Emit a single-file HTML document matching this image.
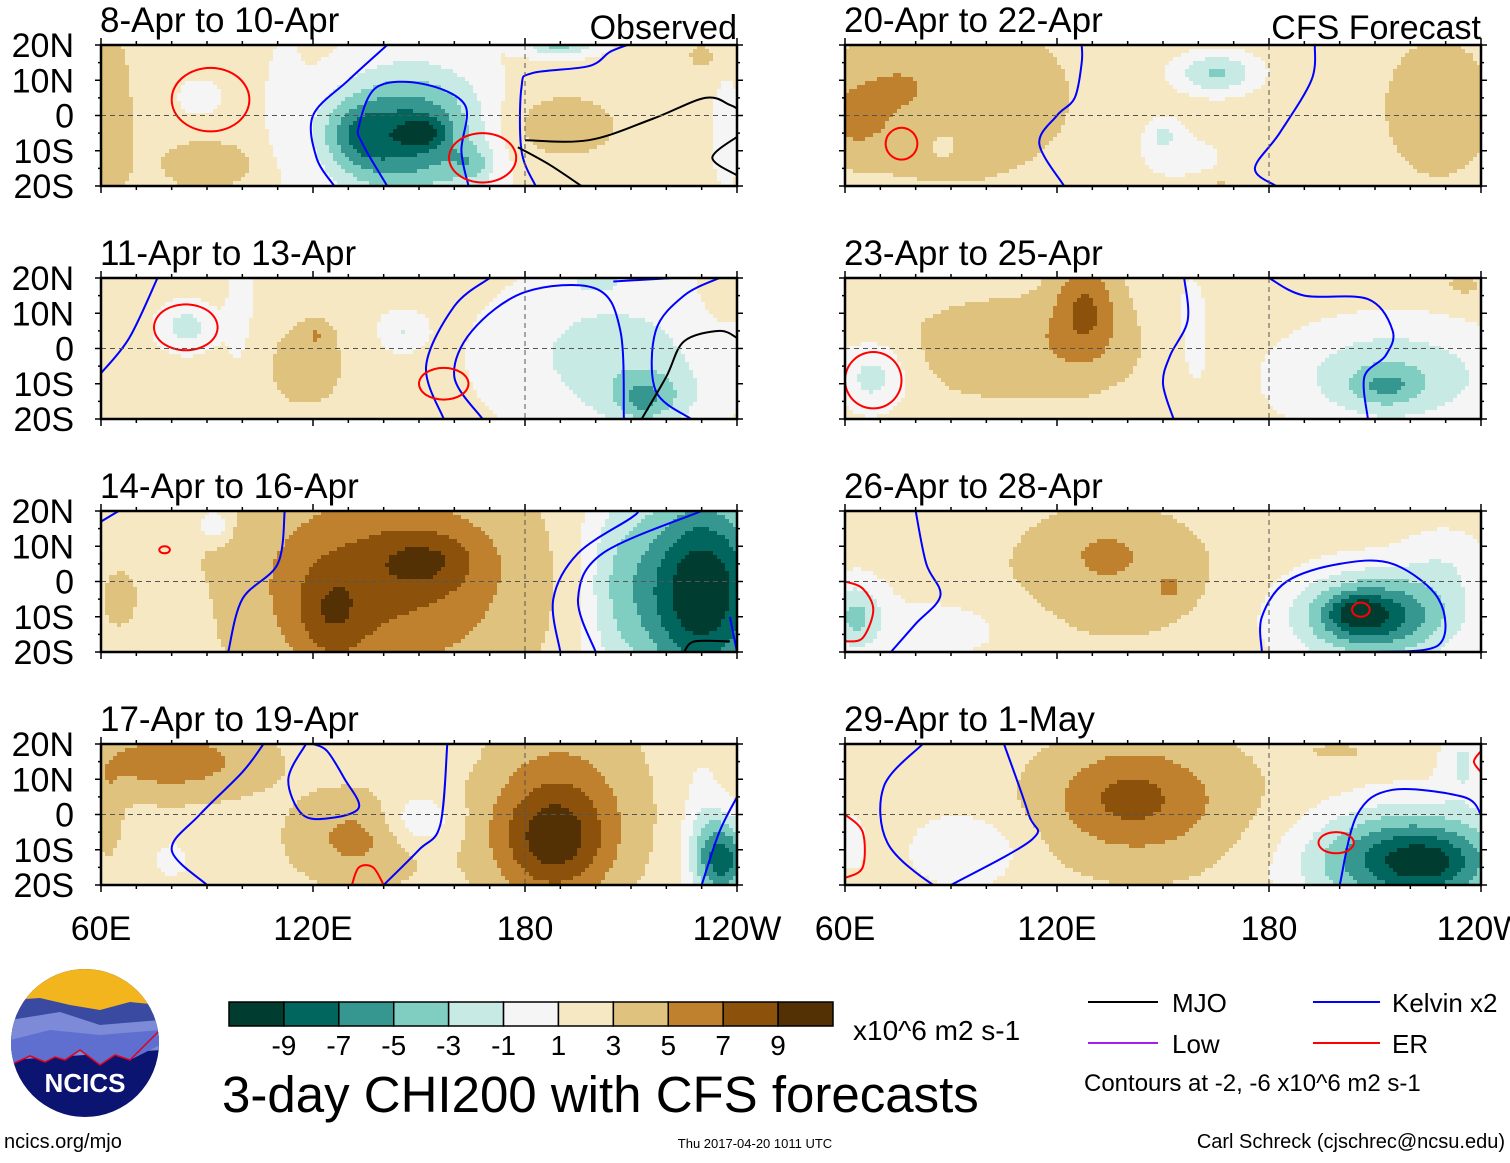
<!DOCTYPE html>
<html><head><meta charset="utf-8"><style>
html,body{margin:0;padding:0;background:#fff;}
svg text{font-family:"Liberation Sans",Arial,sans-serif;}
</style></head><body>
<svg id="s" width="1510" height="1158" viewBox="0 0 1510 1158" xmlns="http://www.w3.org/2000/svg">
<g id="panels"></g>
<g id="bottom">
  <g>
    <clipPath id="lc"><circle cx="85" cy="1043" r="74"/></clipPath>
    <g clip-path="url(#lc)">
      <rect x="10" y="968" width="150" height="150" fill="#0b1470"/>
      <rect x="10" y="968" width="150" height="50" fill="#f2b51e"/>
      <path d="M10 1000 L40 998 L70 1005 L100 1010 L130 1002 L160 1005 L160 1050 L10 1055Z" fill="#3a4aa0"/>
      <path d="M10 1020 L60 1012 L100 1025 L160 1020 L160 1050 L10 1060Z" fill="#7d8ad8"/>
      <path d="M10 1040 L50 1030 L100 1035 L160 1030 L160 1045 L130 1060 L115 1055 L100 1065 L80 1050 L65 1060 L55 1057 L45 1062 L30 1056 L10 1065Z" fill="#5f6fd0"/>
      <path d="M10 1065 L30 1056 L45 1062 L55 1057 L65 1060 L80 1050 L100 1065 L115 1055 L130 1060 L160 1030" fill="none" stroke="#e0001a" stroke-width="1.5"/>
    </g>
    <text x="85" y="1092" font-size="26" font-weight="bold" fill="#fff" text-anchor="middle">NCICS</text>
  </g>
  <text x="4" y="1148" font-size="20">ncics.org/mjo</text>
  <g id="cbar"></g>
  <text x="853" y="1040" font-size="28">x10^6 m2 s-1</text>
  <text x="222" y="1112" font-size="51">3-day CHI200 with CFS forecasts</text>
  <text x="755" y="1148" font-size="13" text-anchor="middle">Thu 2017-04-20 1011 UTC</text>
  <text x="1505" y="1148" font-size="20" text-anchor="end">Carl Schreck (cjschrec@ncsu.edu)</text>
  <g>
    <line x1="1088" y1="1002" x2="1158" y2="1002" stroke="#000" stroke-width="2"/>
    <text x="1172" y="1012" font-size="26">MJO</text>
    <line x1="1313" y1="1002" x2="1380" y2="1002" stroke="#0000ff" stroke-width="2"/>
    <text x="1392" y="1012" font-size="26">Kelvin x2</text>
    <line x1="1088" y1="1043" x2="1158" y2="1043" stroke="#a020f0" stroke-width="2"/>
    <text x="1172" y="1053" font-size="26">Low</text>
    <line x1="1313" y1="1043" x2="1380" y2="1043" stroke="#ff0000" stroke-width="2"/>
    <text x="1392" y="1053" font-size="26">ER</text>
    <text x="1084" y="1091" font-size="24">Contours at -2, -6 x10^6 m2 s-1</text>
  </g>
</g>
</svg>
<script>
const levels=[-9,-7,-5,-3,-1,1,3,5,7,9];
const colors=["#003c30","#01665e","#35978f","#80cdc1","#c7eae5","#f5f5f5","#f6e8c3","#dfc27d","#bf812d","#8c510a","#543005"];
const titles=["8-Apr to 10-Apr","11-Apr to 13-Apr","14-Apr to 16-Apr","17-Apr to 19-Apr","20-Apr to 22-Apr","23-Apr to 25-Apr","26-Apr to 28-Apr","29-Apr to 1-May"];
const latTicks=[20,10,0,-10,-20];
const latLabels=["20N","10N","0","10S","20S"];
const lonTicks=[60,120,180,240];
const lonLabels=["60E","120E","180","120W"];
const baseVals=[1.5,1.5,2,2.2,2.2,2,1.8,1.8];
// anomaly blobs: [lon, lat, rxLon, ryLat, amplitude]
const blobs=[
 [[62,0,8,30,3],[90,-14,15,8,3],[190,-3,18,10,3],[230,17,6,5,2],[148,-5,20,18,-9],[151,-5,6,4,-4],[165,-14,6,5,-3],[135,-8,10,12,-2],[130,-5,10,10,-3],[190,20,10,3,-5],[88,5,6,5,-1.5],[112,0,5,20,-1.5],[237,-5,4,15,-1.5]],
 [[118,-5,14,15,2.5],[121,4,4,4,2],[70,-12,10,6,1.5],[84,6,7,6,-3.5],[100,5,6,25,-1],[205,-2,30,20,-3.5],[215,-14,12,8,-4],[213,-15,5,5,-1.5],[200,19,8,3,-2.5],[236,15,5,6,2],[145,5,6,5,-2.5]],
 [[140,0,40,30,5.5],[125,-10,10,14,3],[152,6,14,8,3],[65,-5,6,10,1.5],[85,-10,5,8,-1.5],[92,16,4,4,-4],[230,-3,20,30,-13],[205,0,10,30,-3]],
 [[80,15,25,10,4],[62,0,4,12,2],[188,-8,16,16,6],[190,5,22,25,3],[135,-8,20,12,2],[130,-5,15,12,1.5],[150,-2,10,8,-3.5],[80,-13,6,6,-2],[160,18,5,4,-1.5],[236,-13,8,12,-10],[230,0,6,20,-2]],
 [[90,5,35,25,2],[63,0,10,10,3],[75,8,8,6,1.5],[88,-8,4,4,-1.2],[155,-12,15,8,-2],[165,12,12,6,-5.5],[150,-5,5,5,-3],[228,2,14,18,2.5],[165,-20,8,3,1.5]],
 [[128,12,9,14,4.5],[110,0,35,15,2.5],[158,5,8,25,-1.5],[215,-8,30,15,-5],[213,-11,9,5,-3],[68,-8,10,10,-4],[235,18,5,3,2]],
 [[135,3,30,20,3],[134,8,6,4,2],[152,-2,3,3,2.5],[90,-13,25,10,-1.5],[63,-10,8,10,-5],[210,-10,22,12,-10],[205,-9,8,5,-4],[230,5,12,10,-2]],
 [[145,3,35,22,3.5],[140,5,18,12,2.5],[95,-10,15,10,-3],[62,-8,4,8,-2],[220,-13,28,14,-11],[225,-14,10,6,-2],[235,15,6,10,-3],[200,18,10,3,1.5]]
];
// contour lines: [color, points] ; ellipses: [color, 'E', lon, lat, rx, ry]
const contours=[
 [["#00f",[[141,20],[130,10],[120,0],[121,-12],[126,-20]]],["#00f",[[141,-20],[134,-8],[133,-3],[138,8],[151,9],[163,3],[162,-10],[164,-20]]],["#00f",[[183,-20],[179,-10],[179,8],[182,12],[198,14],[204,18],[209,20]]],["#f00","E",91,4.5,11,9],["#f00","E",168,-12,9.5,7],["#000",[[178,-9],[187,-14],[196,-20]]],["#000",[[180,-7],[198,-7],[216,-1],[231,5],[238,3],[240,2]]],["#000",[[240,-6],[233,-12],[240,-17]]]],
 [["#00f",[[60,-7],[68,3],[76,20]]],["#00f",[[157,-20],[152,-5],[160,12],[170,20]]],["#00f",[[168,-20],[160,-8],[165,5],[180,16],[200,17],[207,5],[208,-20]]],["#00f",[[227,-20],[217,-12],[217,5],[225,15],[235,20]]],["#00f",[[205,19],[222,20]]],["#000",[[213,-20],[220,-8],[225,2],[235,5],[240,3]]],["#f00","E",84,6,9,6.5],["#f00","E",157,-10,7,4.5]],
 [["#00f",[[60,17],[65,20]]],["#00f",[[96,-20],[100,-5],[110,5],[112,20]]],["#00f",[[190,-20],[188,-5],[195,8],[210,18],[212,20]]],["#00f",[[200,-20],[195,-5],[202,8],[230,20]]],["#00f",[[240,-20],[238,-10]]],["#000",[[225,-20],[228,-17],[238,-17]]],["#f00","E",78,9,1.5,1]],
 [["#00f",[[90,-20],[80,-10],[88,0],[100,12],[106,20]]],["#00f",[[118,20],[113,10],[117,0],[125,-1],[133,2],[129,10],[124,18],[120,20]]],["#00f",[[140,-20],[150,-10],[156,-3],[158,20]]],["#00f",[[230,-20],[235,-5],[240,5]]],["#f00",[[131,-20],[133,-15],[137,-15],[140,-20]]]],
 [["#00f",[[122,-20],[115,-8],[120,0],[125,5],[127,15],[127,20]]],["#00f",[[182,-20],[176,-15],[183,-5],[192,10],[193,20]]],["#f00","E",76,-8,4.5,4.5]],
 [["#00f",[[156,20],[157,8],[152,-2],[150,-10],[153,-20]]],["#00f",[[180,20],[190,15],[208,14],[215,5],[213,-2],[207,-8],[208,-20]]],["#f00","E",68,-9,8,8]],
 [["#00f",[[80,20],[83,5],[87,-4],[80,-12],[73,-20]]],["#00f",[[178,-20],[178,-10],[185,0],[200,5],[215,5],[228,-5],[228,-18],[210,-20]]],["#f00",[[60,0],[65,-2],[68,-8],[65,-16],[60,-17]]],["#f00","E",206,-8,2.5,2]],
 [["#00f",[[82,20],[71,8],[72,-8],[85,-20],[90,-20]]],["#00f",[[90,-20],[113,-7],[112,0],[105,20]]],["#00f",[[200,-20],[205,0],[215,7],[235,5],[240,0]]],["#f00",[[60,0],[65,-5],[65,-15],[60,-18]]],["#f00",[[240,18],[238,15],[240,12]]],["#f00","E",199,-8,5,3]]
];
const NS="http://www.w3.org/2000/svg";
function mk(t,a,p){const e=document.createElementNS(NS,t);for(const k in a)e.setAttribute(k,a[k]);if(p)p.appendChild(e);return e;}
function binFor(v){for(let i=0;i<levels.length;i++){if(v<levels[i])return i;}return 10;}
function smoothPath(pts,closed){
 const n=pts.length;if(n<2)return '';
 const P=i=>closed?pts[(i+n)%n]:pts[Math.max(0,Math.min(n-1,i))];
 let d='M'+pts[0][0].toFixed(1)+','+pts[0][1].toFixed(1);
 const m=closed?n:n-1;
 for(let i=0;i<m;i++){const p0=P(i-1),p1=P(i),p2=P(i+1),p3=P(i+2);
  const c1=[p1[0]+(p2[0]-p0[0])/6,p1[1]+(p2[1]-p0[1])/6],c2=[p2[0]-(p3[0]-p1[0])/6,p2[1]-(p3[1]-p1[1])/6];
  d+=' C'+c1[0].toFixed(1)+','+c1[1].toFixed(1)+' '+c2[0].toFixed(1)+','+c2[1].toFixed(1)+' '+p2[0].toFixed(1)+','+p2[1].toFixed(1);}
 return d+(closed?'Z':'');
}
const lefts=[101,845], tops=[45,278,511,744], PW=636, PH=141, CELL=4;
const root=document.getElementById('panels');
for(let p=0;p<8;p++){
 const col=p<4?0:1,row=p%4,X0=lefts[col],Y0=tops[row];
 const xs=lon=>X0+(lon-60)/180*PW, ys=lat=>Y0+(20-lat)/40*PH;
 const g=mk('g',{},root);
 
 
 const cp=mk('clipPath',{id:'c'+p},g);mk('rect',{x:X0,y:Y0,width:PW,height:PH},cp);
 const f=mk('g',{'clip-path':'url(#c'+p+')','shape-rendering':'crispEdges'},g);
 const field=mk('g',{},f);
 
 
 for(let py=0;py<PH;py+=CELL){
  const lat=20-(py+CELL/2)/PH*40;
  let runStart=0,runBin=-1;
  for(let px=0;px<=PW;px+=CELL){
   let b=-2;
   if(px<PW){
    const lon=60+(px+CELL/2)/PW*180;
    let v=baseVals[p];
    blobs[p].forEach(q=>{const dx=(lon-q[0])/q[2],dy=(lat-q[1])/q[3];v+=q[4]*Math.exp(-(dx*dx+dy*dy));});
    b=binFor(v);
   }
   if(b!==runBin){
    if(runBin>=0)mk('rect',{x:X0+runStart,y:Y0+py,width:px-runStart,height:CELL+0.5,fill:colors[runBin]},field);
    runBin=b;runStart=px;
   }
  }
 }
 contours[p].forEach(c=>{
  let d;
  if(c[1]==='E'){const pts=[];for(let k=0;k<16;k++){const a=k/16*2*Math.PI;pts.push([xs(c[2]+c[4]*Math.cos(a)),ys(c[3]+c[5]*Math.sin(a))]);}d=smoothPath(pts,true);}
  else d=smoothPath(c[1].map(q=>[xs(q[0]),ys(q[1])]),false);
  const l=mk('path',{d:d,fill:'none',stroke:c[0],'stroke-width':2,'shape-rendering':'auto'},f);
  
  
 });
 mk('line',{x1:X0,x2:X0+PW,y1:ys(0),y2:ys(0),stroke:'#555','stroke-dasharray':'5,4','stroke-width':1.3},f);
 mk('line',{x1:xs(180),x2:xs(180),y1:Y0,y2:Y0+PH,stroke:'#555','stroke-dasharray':'5,4','stroke-width':1.3},f);
 mk('rect',{x:X0,y:Y0,width:PW,height:PH,fill:'none',stroke:'#000','stroke-width':2.5},g);
 for(let lon=60;lon<=240;lon+=10){const L=lon%60==0?7:4;mk('line',{x1:xs(lon),x2:xs(lon),y1:Y0,y2:Y0-L,stroke:'#000','stroke-width':1.5},g);mk('line',{x1:xs(lon),x2:xs(lon),y1:Y0+PH,y2:Y0+PH+L,stroke:'#000','stroke-width':1.5},g);}
 for(let lat=-20;lat<=20;lat+=5){const L=lat%10==0?6:3;mk('line',{x1:X0,x2:X0-L,y1:ys(lat),y2:ys(lat),stroke:'#000','stroke-width':1.5},g);mk('line',{x1:X0+PW,x2:X0+PW+L,y1:ys(lat),y2:ys(lat),stroke:'#000','stroke-width':1.5},g);}
 const t=mk('text',{x:X0-1,y:Y0-13,'font-size':35},g);t.textContent=titles[p];
 
 
 if(col==0){latTicks.forEach((la,i)=>{const tt=mk('text',{x:X0-27,y:ys(la)+12,'font-size':34,'text-anchor':'end'},g);tt.textContent=latLabels[i];
  
  });}
 if(row==3){lonTicks.forEach((lo,i)=>{const tt=mk('text',{x:xs(lo),y:940,'font-size':34,'text-anchor':'middle'},g);tt.textContent=lonLabels[i];
  
  });}
 if(row==0){const tt=mk('text',{x:X0+PW,y:Y0-6,'font-size':34,'text-anchor':'end'},g);tt.textContent=col==0?'Observed':'CFS Forecast';
  
  }
}
const cb=document.getElementById('cbar');
const bw=(833-229)/11;
colors.forEach((c,i)=>{const r=mk('rect',{x:229+i*bw,y:1002,width:bw,height:24,fill:c,stroke:'#000','stroke-width':1.5},cb);
 
 });
levels.forEach((v,i)=>{const t=mk('text',{x:229+(i+1)*bw,y:1055,'font-size':28,'text-anchor':'middle'},cb);t.textContent=v<0?'-'+Math.abs(v):String(v);
 
 });
</script>
</body></html>
